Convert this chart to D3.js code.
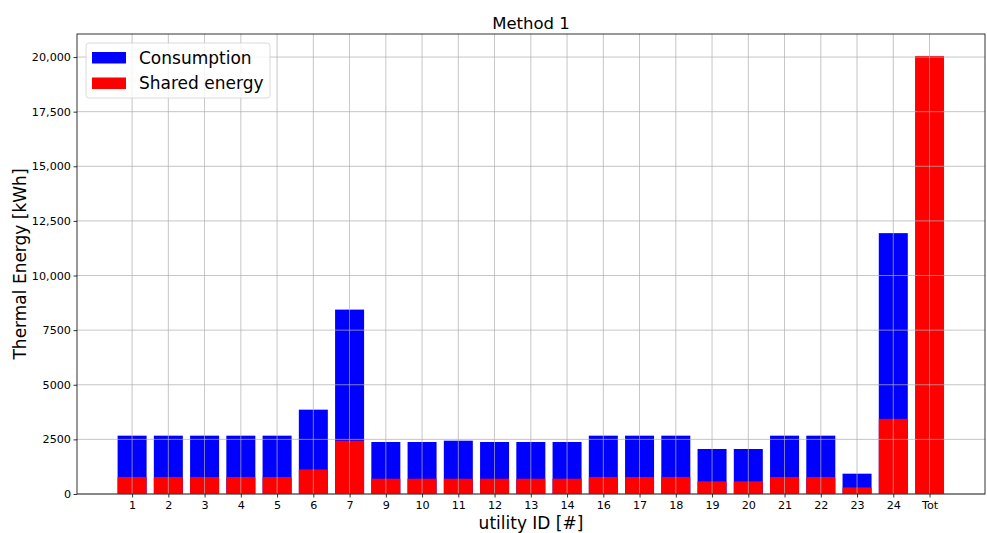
<!DOCTYPE html>
<html>
<head>
<meta charset="utf-8">
<script src="https://cdn.jsdelivr.net/npm/d3@7"></script>
<style>
  body { margin: 0; background: #fff; }
  svg { font-family: 'DejaVu Sans', sans-serif; }
</style>
</head>
<body>
<svg id="chart" width="987" height="533"></svg>
<script>
(function () {
  'use strict';

  // utility IDs on the x axis
  var categories = ['1', '2', '3', '4', '5', '6', '7', '9', '10', '11', '12', '13', '14',
    '16', '17', '18', '19', '20', '21', '22', '23', '24', 'Tot'];
  // consumption per utility [kWh] (no consumption bar for Tot)
  var consumption = [2670, 2670, 2670, 2670, 2670, 3860, 8440, 2380, 2380, 2440, 2380, 2380, 2380,
    2670, 2670, 2670, 2060, 2060, 2670, 2670, 930, 11940, 0];
  // shared energy per utility [kWh]
  var shared = [780, 780, 780, 780, 780, 1125, 2440, 700, 700, 700, 700, 700, 700,
    780, 780, 780, 580, 580, 780, 780, 300, 3440, 20050];
  var yTicks = [0, 2500, 5000, 7500, 10000, 12500, 15000, 17500, 20000];

  var margin = { top: 34, right: 2, bottom: 39, left: 77 };
  var width = 987 - margin.left - margin.right;
  var height = 533 - margin.top - margin.bottom;

  var svg = d3.select('#chart');
  var g = svg.append('g')
    .attr('transform', 'translate(' + margin.left + ',' + margin.top + ')');

  // linear x so the empty space either side matches
  var x = d3.scaleLinear()
    .domain([-1.52, categories.length - 1 + 1.53])
    .range([0, width]);
  var y = d3.scaleLinear()
    .domain([0, 21055])
    .range([height, 0]);
  var barW = x(0.8) - x(0);

  var idx = d3.range(categories.length);

  // consumption bars (behind)
  g.selectAll('.cons')
    .data(idx.filter(function (i) { return consumption[i] > 0; }))
    .enter()
    .append('rect')
    .attr('class', 'cons')
    .attr('x', function (i) { return x(i) - barW / 2; })
    .attr('width', barW)
    .attr('y', function (i) { return y(consumption[i]); })
    .attr('height', function (i) { return height - y(consumption[i]); })
    .attr('fill', '#0000ff');

  // shared energy bars (front)
  g.selectAll('.shared')
    .data(idx)
    .enter()
    .append('rect')
    .attr('class', 'shared')
    .attr('x', function (i) { return x(i) - barW / 2; })
    .attr('width', barW)
    .attr('y', function (i) { return y(shared[i]); })
    .attr('height', function (i) { return height - y(shared[i]); })
    .attr('fill', '#ff0000');

  // grid drawn over the bars
  g.append('g')
    .selectAll('line')
    .data(idx)
    .enter()
    .append('line')
    .attr('x1', function (i) { return x(i); })
    .attr('x2', function (i) { return x(i); })
    .attr('y1', 0)
    .attr('y2', height)
    .attr('stroke', '#b0b0b0')
    .attr('stroke-width', 0.8)
    .attr('opacity', 0.9);
  g.append('g')
    .selectAll('line')
    .data(yTicks)
    .enter()
    .append('line')
    .attr('x1', 0)
    .attr('x2', width)
    .attr('y1', function (d) { return y(d); })
    .attr('y2', function (d) { return y(d); })
    .attr('stroke', '#b0b0b0')
    .attr('stroke-width', 0.8)
    .attr('opacity', 0.9);

  var fmt = function (d) { return d >= 10000 ? d3.format(',')(d) : String(d); };

  // axes
  var xAxis = g.append('g')
    .attr('transform', 'translate(0,' + height + ')')
    .call(d3.axisBottom(x)
      .tickValues(idx)
      .tickFormat(function (d) { return categories[d]; })
      .tickSize(3.5)
      .tickPadding(3.5));
  var yAxis = g.append('g')
    .call(d3.axisLeft(y)
      .tickValues(yTicks)
      .tickFormat(fmt)
      .tickSize(3.5)
      .tickPadding(2.5));
  [xAxis, yAxis].forEach(function (a) {
    a.select('.domain').remove();
    a.selectAll('text')
      .attr('font-family', 'DejaVu Sans, sans-serif')
      .attr('font-size', 11.2)
      .attr('fill', '#000');
    a.selectAll('line').attr('stroke', '#000').attr('stroke-width', 0.8);
  });

  // frame
  g.append('rect')
    .attr('width', width)
    .attr('height', height)
    .attr('fill', 'none')
    .attr('stroke', '#000')
    .attr('stroke-width', 0.8);

  // title and axis labels
  svg.append('text')
    .attr('x', margin.left + width / 2)
    .attr('y', 29)
    .attr('text-anchor', 'middle')
    .attr('font-size', 16.5)
    .text('Method 1');
  svg.append('text')
    .attr('x', margin.left + width / 2)
    .attr('y', 529)
    .attr('text-anchor', 'middle')
    .attr('font-size', 17)
    .text('utility ID [#]');
  svg.append('text')
    .attr('transform', 'translate(26,' + (margin.top + height / 2) + ') rotate(-90)')
    .attr('text-anchor', 'middle')
    .attr('font-size', 17)
    .text('Thermal Energy [kWh]');

  // legend
  var leg = g.append('g').attr('transform', 'translate(9,9)');
  leg.append('rect')
    .attr('width', 184)
    .attr('height', 55)
    .attr('rx', 3)
    .attr('fill', '#fff')
    .attr('fill-opacity', 0.8)
    .attr('stroke', '#d0d0d0')
    .attr('stroke-width', 0.8);
  var items = [['Consumption', '#0000ff'], ['Shared energy', '#ff0000']];
  items.forEach(function (it, k) {
    leg.append('rect')
      .attr('x', 6)
      .attr('y', 9 + k * 25.5)
      .attr('width', 34)
      .attr('height', 11.5)
      .attr('fill', it[1]);
    leg.append('text')
      .attr('x', 53)
      .attr('y', 20.5 + k * 25.5)
      .attr('font-size', 17)
      .text(it[0]);
  });
}());
</script>
</body>
</html>
